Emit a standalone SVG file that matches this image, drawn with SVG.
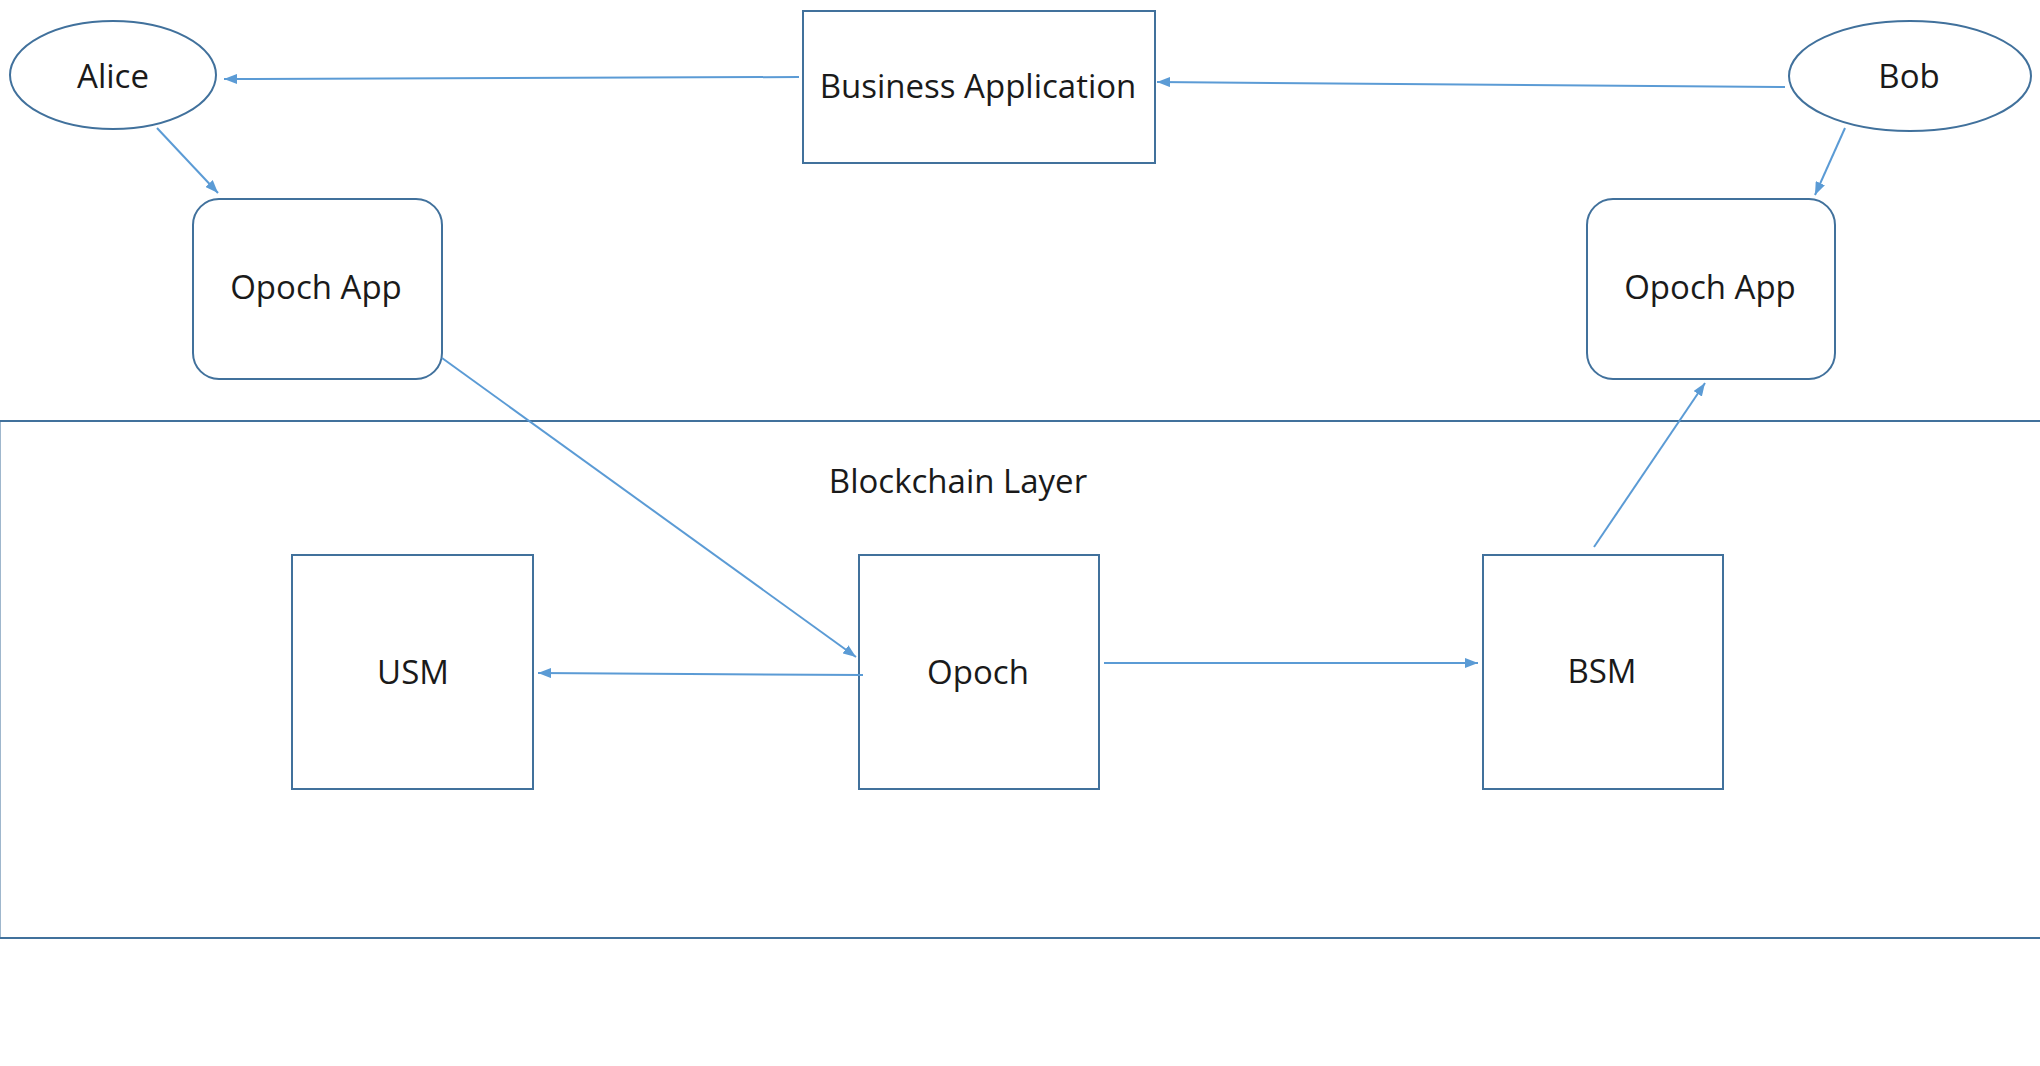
<svg xmlns="http://www.w3.org/2000/svg" width="2040" height="1066" viewBox="0 0 2040 1066">
<style>
.node{fill:#ffffff;stroke:#41719C;stroke-width:2}
.lbl{font-family:"Open Sans","Liberation Sans",sans-serif;font-size:33px;fill:#1a1a1a;text-anchor:middle}
.conn{stroke:#5B9BD5;stroke-width:2;fill:none;marker-end:url(#arr)}
</style>
<defs>
<marker id="arr" markerUnits="userSpaceOnUse" markerWidth="13" markerHeight="10" refX="13" refY="5" orient="auto">
<path d="M0,0 L13,5 L0,10 z" fill="#5B9BD5"/>
</marker>
</defs>
<rect width="2040" height="1066" fill="#ffffff"/>
<g id="blockchain-layer">
<rect x="-0.5" y="421" width="2070" height="517" fill="none" stroke="#41719C" stroke-width="2"/>
<text class="lbl" x="958" y="493">Blockchain Layer</text>
</g>
<g id="alice">
<ellipse cx="113" cy="75" rx="103" ry="54" class="node"/>
<text class="lbl" x="113" y="88">Alice</text>
</g>
<g id="business-application">
<rect x="803" y="11" width="352" height="152" class="node"/>
<text class="lbl" x="978" y="98">Business Application</text>
</g>
<g id="bob">
<ellipse cx="1910" cy="76" rx="121" ry="55" class="node"/>
<text class="lbl" x="1909" y="88">Bob</text>
</g>
<g id="opoch-app-left">
<rect x="193" y="199" width="249" height="180" rx="26" ry="26" class="node"/>
<text class="lbl" x="316" y="299">Opoch App</text>
</g>
<g id="opoch-app-right">
<rect x="1587" y="199" width="248" height="180" rx="26" ry="26" class="node"/>
<text class="lbl" x="1710" y="299">Opoch App</text>
</g>
<g id="usm">
<rect x="292" y="555" width="241" height="234" class="node"/>
<text class="lbl" x="413" y="684">USM</text>
</g>
<g id="opoch">
<rect x="859" y="555" width="240" height="234" class="node"/>
<text class="lbl" x="978" y="684">Opoch</text>
</g>
<g id="bsm">
<rect x="1483" y="555" width="240" height="234" class="node"/>
<text class="lbl" x="1602" y="683">BSM</text>
</g>
<g id="connectors">
<line class="conn" x1="799" y1="77" x2="224" y2="79"/>
<line class="conn" x1="1785" y1="87" x2="1157" y2="82"/>
<line class="conn" x1="157" y1="128" x2="218" y2="193"/>
<line class="conn" x1="1845" y1="128" x2="1815" y2="195"/>
<line class="conn" x1="442" y1="358" x2="856" y2="657"/>
<line class="conn" x1="863" y1="675" x2="538" y2="673"/>
<line class="conn" x1="1104" y1="663" x2="1478" y2="663"/>
<line class="conn" x1="1594" y1="547" x2="1705" y2="383"/>
</g>
</svg>
